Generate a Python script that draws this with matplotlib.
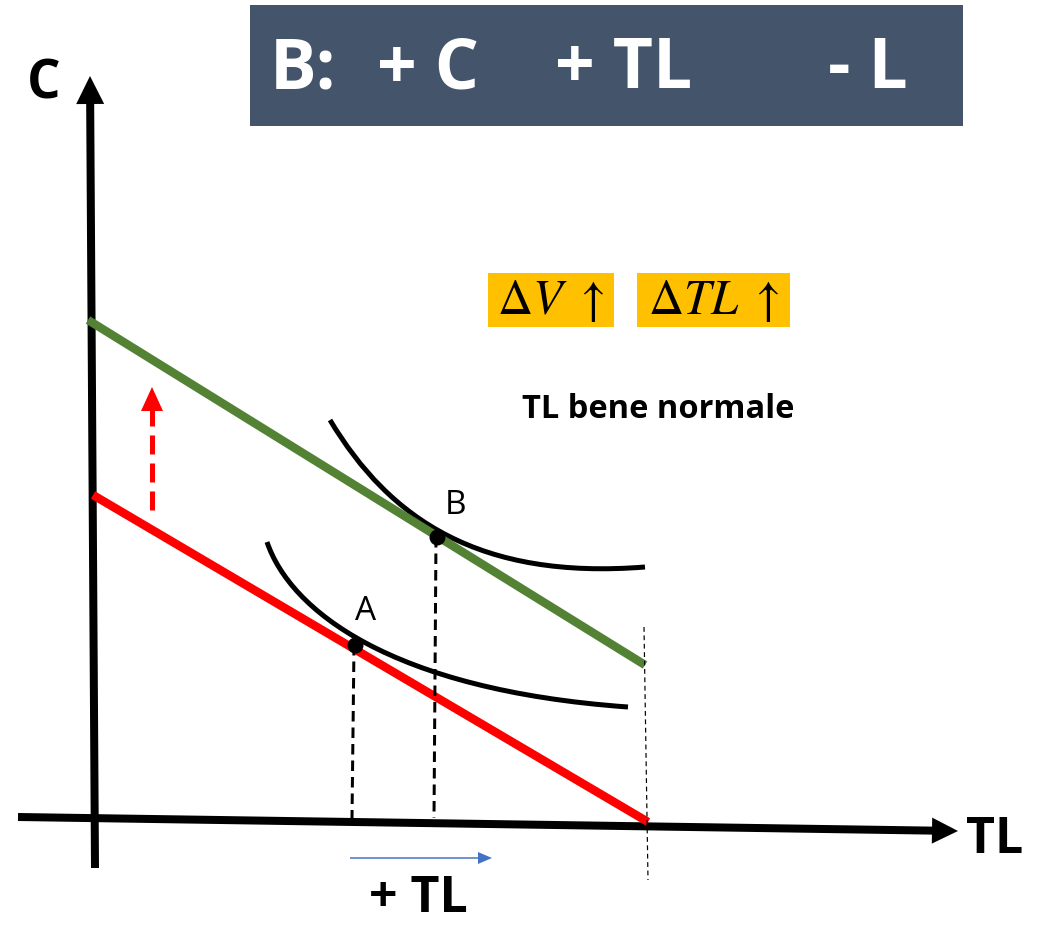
import numpy as np
import matplotlib
matplotlib.use("Agg")
import matplotlib.pyplot as plt
from matplotlib.patches import Rectangle, Polygon, PathPatch
from matplotlib.path import Path

plt.rcParams['mathtext.fontset'] = 'stix'

# ---------------- data (slide pixel space, y grows downwards) ----------------
W, H = 1038, 927

# budget lines: old (red) and new (green)
red_x = [93, 648]
red_y = [495, 822]
green_x = [88, 645]
green_y = [320, 665]

# indifference curves, cubic bezier control points
curve_A = [(267, 542), (290, 610), (390, 690), (628, 707)]
curve_B = [(330, 420), (390, 520), (480, 580), (645, 567)]

pt_names = ["A", "B"]
pt_x = [355, 437]
pt_y = [645, 537]

title_parts = ["B:", "+ C", "+ TL", "- L"]
title_x = [270, 377, 555, 828]
badges = [r"$\Delta V\ \uparrow$", r"$\Delta TL\ \uparrow$"]
badge_x0 = [488, 637]
badge_x1 = [614, 790]

# ---------------------------------------------------------------------------
fig = plt.figure(figsize=(W / 100, H / 100), dpi=100)
ax = fig.add_axes([0, 0, 1, 1])
ax.set_xlim(0, W)
ax.set_ylim(H, 0)
ax.axis('off')

PX = 72 / 100  # one pixel in points


def arrow(x0, y0, x1, y1, lw, hl, hw, color, ls='-', dashes=None):
    # shaft up to head base, then a triangle head
    d = np.array([x1 - x0, y1 - y0], float)
    L = np.hypot(*d)
    u = d / L
    n = np.array([-u[1], u[0]])
    bx, by = x1 - u[0] * hl, y1 - u[1] * hl
    line, = ax.plot([x0, bx + u[0] * 2], [y0, by + u[1] * 2], color=color,
                    lw=lw * PX, ls=ls, solid_capstyle='butt')
    if dashes:
        line.set_dashes(dashes)
    head = Polygon([[x1, y1], [bx + n[0] * hw / 2, by + n[1] * hw / 2],
                    [bx - n[0] * hw / 2, by - n[1] * hw / 2]],
                   closed=True, color=color, lw=0)
    ax.add_patch(head)


# title box
ax.add_patch(Rectangle((250, 5), 713, 121, color='#44546A', lw=0))
for s, x in zip(title_parts, title_x):
    ax.text(x, 70, s, color='white', fontsize=50, fontweight='bold',
            family='Open Sans', ha='left', va='center')

# axes
arrow(95, 868, 90, 76, 8, 28, 28, 'black')
arrow(18, 817, 958, 831, 8, 26, 26, 'black')
ax.text(44, 84, "C", fontsize=38, fontweight='bold', family='Open Sans',
        ha='center', va='center')
ax.text(995, 840, "TL", fontsize=36, fontweight='bold', family='Open Sans',
        ha='center', va='center')

# budget lines
ax.plot(green_x, green_y, color='#548235', lw=8.5 * PX, solid_capstyle='butt')
ax.plot(red_x, red_y, color='#FF0000', lw=8.5 * PX, solid_capstyle='butt')

# shift arrow
arrow(152, 510, 152, 387, 5, 24, 22, '#FF0000', dashes=(3.8, 1.8))

# indifference curves
codes = [Path.MOVETO, Path.CURVE4, Path.CURVE4, Path.CURVE4]
for c in (curve_A, curve_B):
    ax.add_patch(PathPatch(Path(c, codes), fill=False, color='black',
                           lw=5 * PX))

# dashed drops
for x, y in zip(pt_x, pt_y):
    ax.plot([x - 1, x - 3], [y, 818], color='black', lw=3 * PX,
            dashes=(3.5, 2))
ax.plot([644, 648], [627, 880], color='black', lw=1.2 * PX, dashes=(4, 3))

# points and labels
ax.scatter(pt_x, pt_y, s=110, color='black', zorder=5)
ax.text(pt_x[0] + 11, pt_y[0] - 34, pt_names[0], fontsize=24,
        family='Open Sans', ha='center', va='center')
ax.text(pt_x[1] + 18, pt_y[1] - 31, pt_names[1], fontsize=24,
        family='Open Sans', ha='center', va='center')

# badges
for s, a, b in zip(badges, badge_x0, badge_x1):
    ax.add_patch(Rectangle((a, 273), b - a, 54, color='#FFC000', lw=0))
    ax.text((a + b) / 2, 300, s, fontsize=35, ha='center', va='center')

ax.text(658, 410, "TL bene normale", fontsize=23.5, fontweight='bold',
        family='Open Sans', ha='center', va='center')

# blue arrow and label
arrow(350, 858, 492, 858, 1.5, 14, 12, '#4472C4')
ax.text(418, 899, "+ TL", fontsize=36, fontweight='bold', family='Open Sans',
        ha='center', va='center')

fig.savefig("out.png", dpi=100)
